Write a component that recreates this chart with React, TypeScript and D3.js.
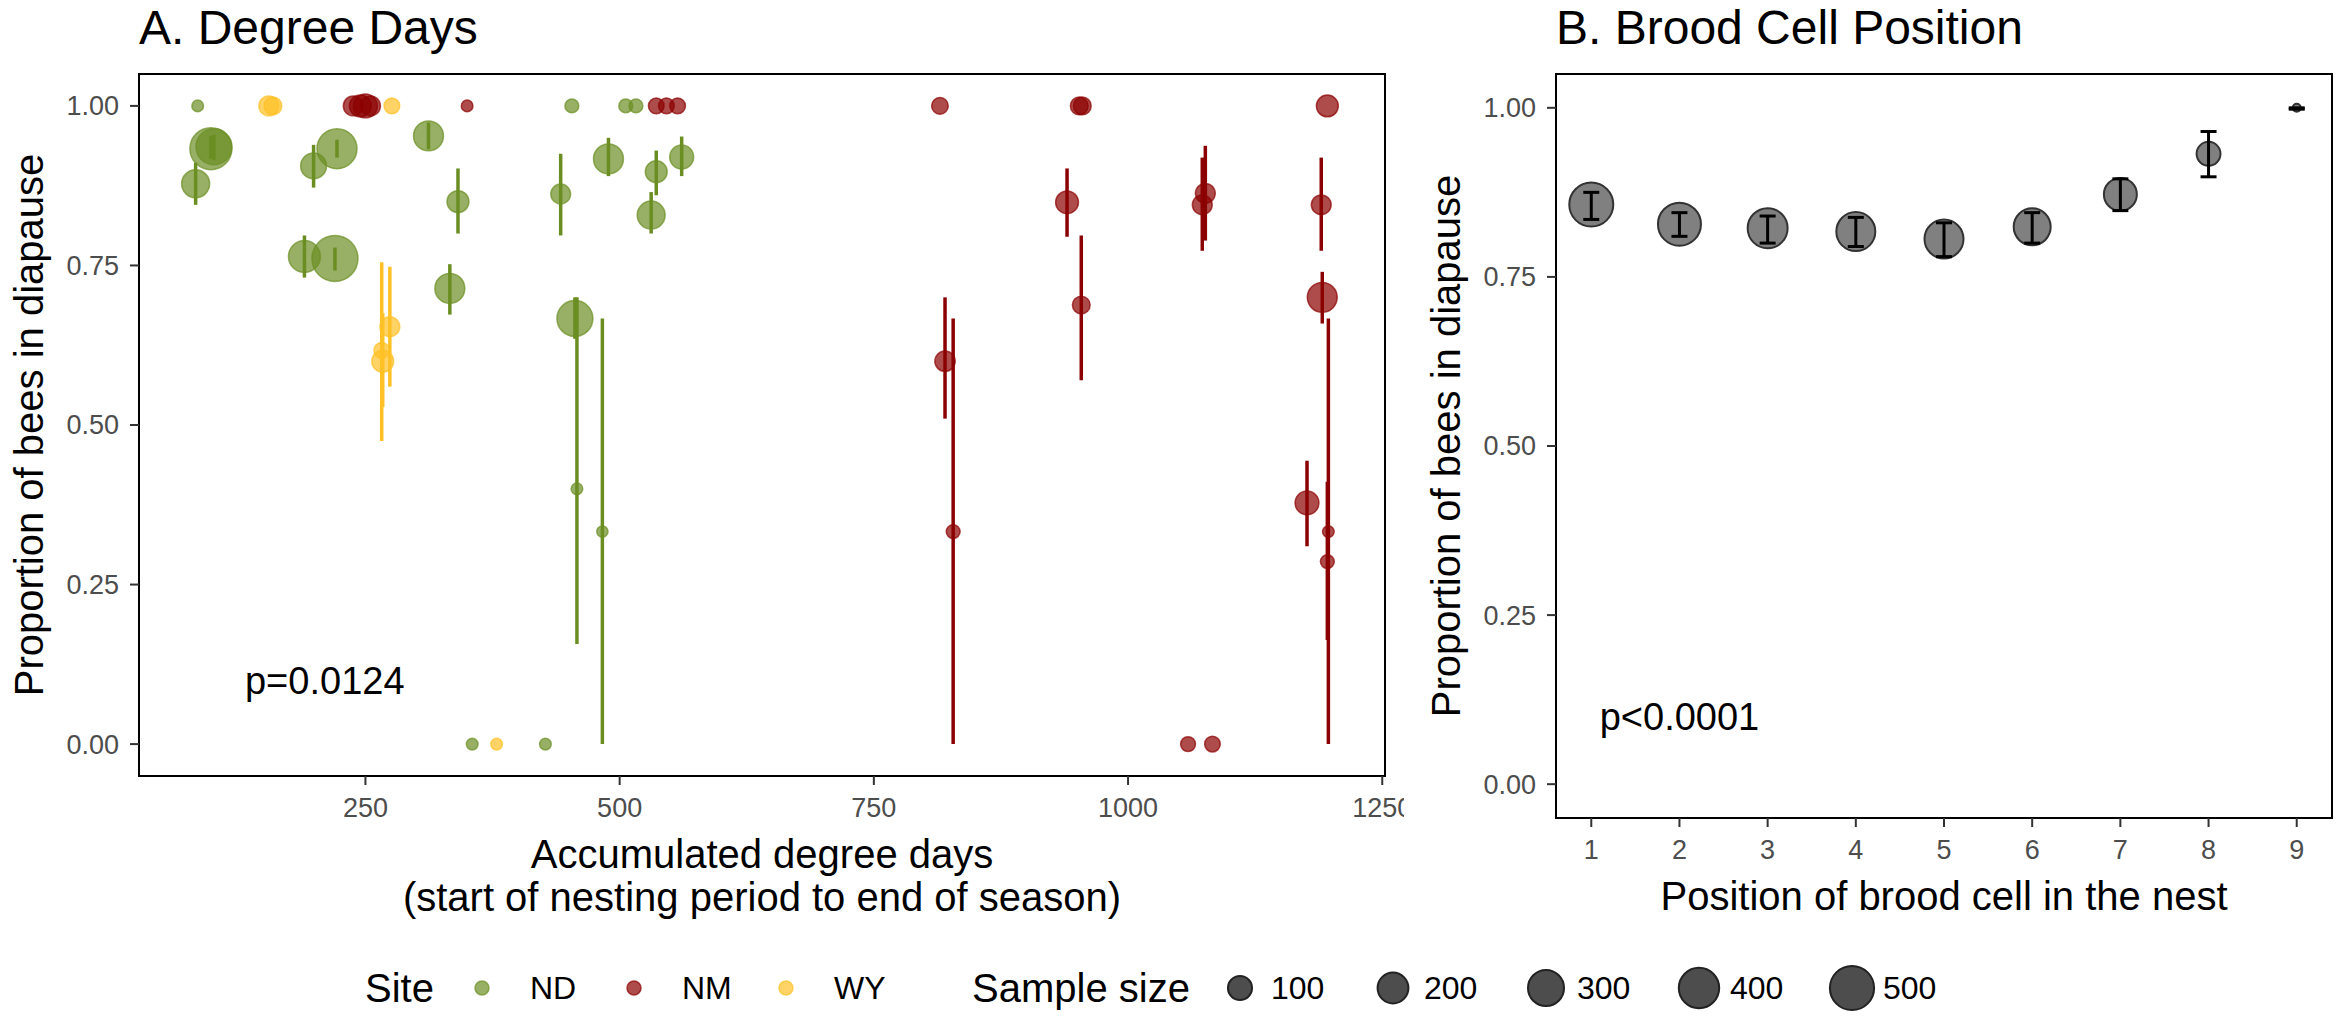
import React from 'react';
import * as d3 from 'd3';

// ND site: accumulated degree days, proportion in diapause, CI bounds, sample size
const ndDays = [85, 83, 98, 101, 199, 222, 190, 220, 312, 341, 333, 442, 453, 456, 458, 483, 489, 506, 516, 536, 531, 561, 355, 427];
const ndProp = [1.0, 0.878, 0.933, 0.936, 0.906, 0.933, 0.764, 0.761, 0.953, 0.85, 0.714, 0.862, 1.0, 0.667, 0.4, 0.333, 0.917, 1.0, 1.0, 0.897, 0.829, 0.92, 0, 0];
const ndLow = [1.0, 0.845, 0.917, 0.915, 0.872, 0.919, 0.731, 0.742, 0.932, 0.8, 0.673, 0.797, 1.0, 0.635, 0.157, 0, 0.89, 1, 1, 0.86, 0.8, 0.89, 0, 0];
const ndHigh = [1.0, 0.911, 0.953, 0.955, 0.939, 0.947, 0.797, 0.778, 0.974, 0.902, 0.752, 0.925, 1.0, 0.7, 0.7, 0.667, 0.95, 1, 1, 0.93, 0.865, 0.952, 0, 0];
const ndN = [7, 153, 440, 298, 123, 390, 219, 550, 184, 75, 184, 55, 15, 298, 7, 6, 184, 15, 15, 75, 153, 98, 7, 7];

// NM site
const nmDays = [238, 245, 250, 255, 350, 536, 546, 557, 815, 820, 828, 940, 952, 955, 954, 1059, 1083, 1073, 1076, 1190, 1196, 1191, 1176, 1197, 1196];
const nmProp = [1, 1, 1, 1, 1, 1, 1, 1, 1, 0.6, 0.333, 0.849, 1, 1, 0.688, 0, 0, 0.845, 0.863, 0.845, 1, 0.7, 0.378, 0.333, 0.286];
const nmLow = [1, 1, 1, 1, 1, 1, 1, 1, 1, 0.51, 0, 0.795, 1, 1, 0.57, 0, 0, 0.773, 0.789, 0.773, 1, 0.659, 0.31, 0, 0.163];
const nmHigh = [1, 1, 1, 1, 1, 1, 1, 1, 1, 0.7, 0.667, 0.902, 1, 1, 0.797, 0, 0, 0.919, 0.9375, 0.919, 1, 0.74, 0.444, 0.667, 0.411];
const nmN = [55, 75, 98, 55, 7, 24, 24, 24, 30, 60, 15, 85, 38, 38, 38, 20, 24, 55, 55, 55, 75, 184, 98, 7, 15];

// WY site
const wyDays = [155, 159, 276, 274, 266, 267, 379];
const wyProp = [1, 1, 1, 0.654, 0.617, 0.6, 0];
const wyLow = [1, 1, 1, 0.56, 0.475, 0.528, 0];
const wyHigh = [1, 1, 1, 0.748, 0.755, 0.675, 0];
const wyN = [55, 38, 24, 55, 24, 75, 7];

// brood cell position panel
const cellPos = [1, 2, 3, 4, 5, 6, 7, 8, 9];
const cellProp = [0.857, 0.828, 0.822, 0.817, 0.806, 0.824, 0.872, 0.932, 1.0];
const cellLow = [0.835, 0.81, 0.8, 0.795, 0.78, 0.8, 0.848, 0.898, 0.998];
const cellHigh = [0.875, 0.845, 0.84, 0.838, 0.83, 0.845, 0.895, 0.965, 1.0];
const cellN = [494, 467, 390, 367, 367, 321, 238, 98, 2];

const siteNames = ['ND', 'NM', 'WY'];
const siteColors = ['#6B8E23', '#8B0000', '#FFC125'];
const degreeTicks = [250, 500, 750, 1000, 1250];
const propTicks = [0, 0.25, 0.5, 0.75, 1];
const sizeBreaks = [100, 200, 300, 400, 500];

const W = 2340;
const H = 1022;
const FONT = 'Liberation Sans, Arial, Helvetica, sans-serif';

interface Obs {
	x: number;
	y: number;
	lo: number;
	hi: number;
	n: number;
	site: string;
}

const build = (site: string, xs: number[], ys: number[], lo: number[], hi: number[], n: number[]): Obs[] =>
	xs.map((x, i) => ({ x, y: ys[i], lo: lo[i], hi: hi[i], n: n[i], site }));

const obs: Obs[] = [
	...build('ND', ndDays, ndProp, ndLow, ndHigh, ndN),
	...build('NM', nmDays, nmProp, nmLow, nmHigh, nmN),
	...build('WY', wyDays, wyProp, wyLow, wyHigh, wyN),
];

const allN = [...ndN, ...nmN, ...wyN, ...cellN];
const nMin = d3.min(allN) as number;
const nMax = d3.max(allN) as number;
const sizeScale = d3.scaleLinear().domain([0, 1]).range([4, 23]);
const radius = (n: number) => sizeScale(Math.sqrt(Math.max(0, n - nMin) / (nMax - nMin)));

const color = d3.scaleOrdinal<string>().domain(siteNames).range(siteColors);

// left panel
const L = { x0: 139, x1: 1385, y0: 74, y1: 776 };
const ext = d3.extent(obs, (d) => d.x) as [number, number];
const pad = (ext[1] - ext[0]) * 0.05;
const xL = d3.scaleLinear().domain([ext[0] - pad, ext[1] + pad]).range([L.x0, L.x1]);
const yL = d3.scaleLinear().domain([-0.05, 1.05]).range([L.y1, L.y0]);

// right panel
const R = { x0: 1556, x1: 2332, y0: 74, y1: 818 };
const xR = d3.scaleLinear().domain([0.6, 9.4]).range([R.x0, R.x1]);
const yR = d3.scaleLinear().domain([-0.05, 1.05]).range([R.y1, R.y0]);

const fmt = d3.format('.2f');
const TICK = 9;

const App: React.FC = () => {
	return (
		<div style={{ position: 'absolute', left: 0, top: 0 }}>
			<svg width={W} height={H} style={{ display: 'block', fontFamily: FONT }}>
				<rect width={W} height={H} fill='white' />

				{/* ---------- A. Degree Days ---------- */}
				<text x={L.x0} y={44} fontSize={48} fill='black'>
					A. Degree Days
				</text>

				{obs.map((d, i) => (
					<circle
						key={'p' + i}
						cx={xL(d.x)}
						cy={yL(d.y)}
						r={radius(d.n)}
						fill={color(d.site)}
						fillOpacity={0.7}
						stroke={color(d.site)}
						strokeOpacity={0.7}
						strokeWidth={1.5}
					/>
				))}
				{obs
					.filter((d) => d.hi > d.lo)
					.map((d, i) => (
						<line
							key={'e' + i}
							x1={xL(d.x)}
							x2={xL(d.x)}
							y1={yL(d.lo)}
							y2={yL(d.hi)}
							stroke={color(d.site)}
							strokeWidth={3.5}
						/>
					))}

				<text x={xL(210)} y={yL(0.1)} dy='0.35em' fontSize={38} textAnchor='middle'>
					p=0.0124
				</text>

				<rect x={L.x0} y={L.y0} width={L.x1 - L.x0} height={L.y1 - L.y0} fill='none' stroke='black' strokeWidth={2} />

				{propTicks.map((t) => (
					<g key={'yl' + t}>
						<line x1={L.x0 - TICK} x2={L.x0} y1={yL(t)} y2={yL(t)} stroke='#333' strokeWidth={2} />
						<text x={L.x0 - TICK - 11} y={yL(t)} dy='0.35em' fontSize={27} fill='#4D4D4D' textAnchor='end'>
							{fmt(t)}
						</text>
					</g>
				))}
				{degreeTicks.map((t) => (
					<g key={'xl' + t}>
						<line x1={xL(t)} x2={xL(t)} y1={L.y1} y2={L.y1 + TICK} stroke='#333' strokeWidth={2} />
						<text x={xL(t)} y={L.y1 + 41} fontSize={27} fill='#4D4D4D' textAnchor='middle'>
							{t}
						</text>
					</g>
				))}

				<text x={(L.x0 + L.x1) / 2} y={868} fontSize={40} textAnchor='middle'>
					Accumulated degree days
				</text>
				<text x={(L.x0 + L.x1) / 2} y={911} fontSize={40} textAnchor='middle'>
					(start of nesting period to end of season)
				</text>
				<text transform={`translate(29, ${(L.y0 + L.y1) / 2}) rotate(-90)`} dy='0.35em' fontSize={40} textAnchor='middle'>
					Proportion of bees in diapause
				</text>

				{/* covers the overflow of the last tick label, as in the original */}
				<rect x={1404} y={0} width={W - 1404} height={940} fill='white' />

				{/* ---------- B. Brood Cell Position ---------- */}
				<text x={R.x0} y={44} fontSize={48} fill='black'>
					B. Brood Cell Position
				</text>

				{cellPos.map((p, i) => (
					<circle
						key={'c' + p}
						cx={xR(p)}
						cy={yR(cellProp[i])}
						r={radius(cellN[i])}
						fill='#808080'
						stroke='#333'
						strokeWidth={2}
					/>
				))}
				{cellPos.map((p, i) => {
					const cx = xR(p);
					return (
						<g key={'ce' + p} stroke='black' strokeWidth={3}>
							<line x1={cx} x2={cx} y1={yR(cellLow[i])} y2={yR(cellHigh[i])} />
							<line x1={cx - 8} x2={cx + 8} y1={yR(cellLow[i])} y2={yR(cellLow[i])} />
							<line x1={cx - 8} x2={cx + 8} y1={yR(cellHigh[i])} y2={yR(cellHigh[i])} />
						</g>
					);
				})}

				<text x={xR(2)} y={yR(0.1)} dy='0.35em' fontSize={38} textAnchor='middle'>
					p&lt;0.0001
				</text>

				<rect x={R.x0} y={R.y0} width={R.x1 - R.x0} height={R.y1 - R.y0} fill='none' stroke='black' strokeWidth={2} />

				{propTicks.map((t) => (
					<g key={'yr' + t}>
						<line x1={R.x0 - TICK} x2={R.x0} y1={yR(t)} y2={yR(t)} stroke='#333' strokeWidth={2} />
						<text x={R.x0 - TICK - 11} y={yR(t)} dy='0.35em' fontSize={27} fill='#4D4D4D' textAnchor='end'>
							{fmt(t)}
						</text>
					</g>
				))}
				{cellPos.map((t) => (
					<g key={'xr' + t}>
						<line x1={xR(t)} x2={xR(t)} y1={R.y1} y2={R.y1 + TICK} stroke='#333' strokeWidth={2} />
						<text x={xR(t)} y={R.y1 + 41} fontSize={27} fill='#4D4D4D' textAnchor='middle'>
							{t}
						</text>
					</g>
				))}
				<text x={(R.x0 + R.x1) / 2} y={910} fontSize={40} textAnchor='middle'>
					Position of brood cell in the nest
				</text>
				<text transform={`translate(1446, ${(R.y0 + R.y1) / 2}) rotate(-90)`} dy='0.35em' fontSize={40} textAnchor='middle'>
					Proportion of bees in diapause
				</text>

				{/* ---------- legend ---------- */}
				<g transform='translate(0, 988)'>
					<text x={365} dy='0.35em' fontSize={40}>
						Site
					</text>
					{siteNames.map((s, i) => (
						<g key={'ls' + s} transform={`translate(${482 + i * 152}, 0)`}>
							<circle r={7} fill={color(s)} fillOpacity={0.7} stroke={color(s)} strokeOpacity={0.7} strokeWidth={1.5} />
							<text x={48} dy='0.35em' fontSize={32}>
								{s}
							</text>
						</g>
					))}
					<text x={972} dy='0.35em' fontSize={40}>
						Sample size
					</text>
					{sizeBreaks.map((b, i) => (
						<g key={'lz' + b} transform={`translate(${1240 + i * 153}, 0)`}>
							<circle r={radius(b)} fill='#4D4D4D' stroke='#222' strokeWidth={2} />
							<text x={31} dy='0.35em' fontSize={32}>
								{b}
							</text>
						</g>
					))}
				</g>
			</svg>
		</div>
	);
};

export default App;
